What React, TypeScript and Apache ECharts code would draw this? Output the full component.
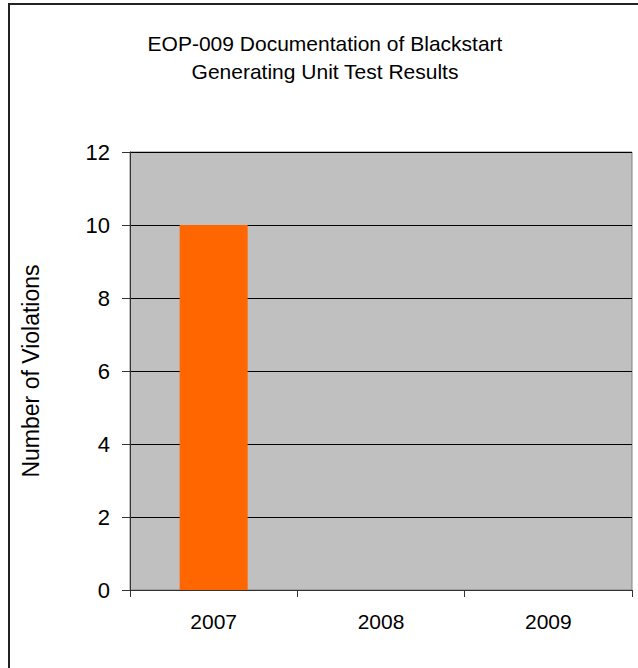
import React, { useEffect, useRef } from "react";
import * as echarts from "echarts";

const categories = ["2007", "2008", "2009"];
const violations = [10, 0, 0];
const yTicks = { min: 0, max: 12, interval: 2 };
const titleLines = ["EOP-009 Documentation of Blackstart", "Generating Unit Test Results"];
const yAxisTitle = "Number of Violations";

const FONT = "'Liberation Sans', Arial, sans-serif";

export default function App() {
  const ref = useRef<HTMLDivElement>(null);
  useEffect(() => {
    if (!ref.current) return;
    const chart = echarts.init(ref.current, null, { renderer: "svg" });
    chart.setOption({
      animation: false,
      backgroundColor: "#ffffff",
      title: {
        text: titleLines.join("\n"),
        left: 320,
        textAlign: "center",
        top: 24,
        textStyle: {
          fontFamily: FONT,
          fontSize: 21,
          fontWeight: "normal",
          color: "#000",
          lineHeight: 28,
        },
      },
      graphic: [
        {
          type: "rect",
          shape: { x: 9, y: 4, width: 700, height: 700 },
          style: { fill: "none", stroke: "#222", lineWidth: 2 },
          z: 100,
          silent: true,
        },
      ],
      grid: {
        left: 130,
        top: 152,
        right: 6,
        bottom: 78,
        show: true,
        backgroundColor: "#C0C0C0",
        borderColor: "#808080",
        borderWidth: 1,
      },
      xAxis: {
        type: "category",
        data: categories,
        boundaryGap: true,
        axisLine: { show: true, lineStyle: { color: "#333", width: 1 } },
        axisTick: { show: true, length: 7, inside: false, alignWithLabel: false, lineStyle: { color: "#333" } },
        axisLabel: { fontFamily: FONT, fontSize: 21, color: "#000", margin: 21 },
        splitLine: { show: false },
      },
      yAxis: {
        type: "value",
        min: yTicks.min,
        max: yTicks.max,
        interval: yTicks.interval,
        name: yAxisTitle,
        nameLocation: "middle",
        nameRotate: 90,
        nameGap: 88,
        nameTextStyle: { fontFamily: FONT, fontSize: 23, color: "#000" },
        axisLine: { show: true, lineStyle: { color: "#333", width: 1 } },
        axisTick: { show: true, length: 8, inside: false, lineStyle: { color: "#333" } },
        axisLabel: { fontFamily: FONT, fontSize: 22, color: "#000", margin: 20 },
        splitLine: { show: true, lineStyle: { color: "#000", width: 1 } },
      },
      series: [
        {
          type: "bar",
          data: violations,
          barWidth: 68,
          itemStyle: { color: "#FF6600" },
        },
      ],
    });
    return () => chart.dispose();
  }, []);
  return (
    <div
      ref={ref}
      style={{ position: "fixed", left: 0, top: 0, width: 638, height: 668 }}
    />
  );
}
